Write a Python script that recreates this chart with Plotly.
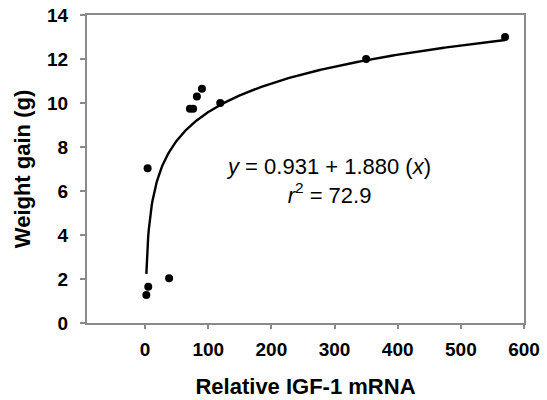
import numpy as np
import plotly.graph_objects as go

# Observed points: relative IGF-1 mRNA vs weight gain (g)
igf1_mrna = [2, 5, 38, 4, 71, 76, 82, 90, 119, 350, 570]
weight_gain = [1.27, 1.65, 2.03, 7.03, 9.74, 9.74, 10.3, 10.65, 10.0, 12.0, 13.0]

# Logarithmic trendline coefficients (y = a + b ln x)
fit_a = 0.931
fit_b = 1.880
r_squared = 72.9

x_ticks = [0, 100, 200, 300, 400, 500, 600]
y_ticks = [0, 2, 4, 6, 8, 10, 12, 14]

fit_x = np.linspace(min(igf1_mrna), max(igf1_mrna), 600)
fit_y = fit_a + fit_b * np.log(fit_x)

FONT = "Liberation Sans, Arial, sans-serif"
AXIS_GRAY = "#8a8a8a"

fig = go.Figure()
fig.add_trace(go.Scatter(
    x=fit_x, y=fit_y, mode="lines",
    line=dict(color="black", width=2.4),
    hoverinfo="skip", showlegend=False,
))
fig.add_trace(go.Scatter(
    x=igf1_mrna, y=weight_gain, mode="markers",
    marker=dict(color="black", size=8),
    showlegend=False,
))

fig.add_annotation(
    x=290, y=6.45, xref="x", yref="y",
    text=(f"<i>y</i> = {fit_a:.3f} + {fit_b:.3f} (<i>x</i>)<br>"
          f"<i>r</i><sup>2</sup> = {r_squared}"),
    showarrow=False, xanchor="center", yanchor="middle", align="center",
    font=dict(family=FONT, size=22, color="black"),
)

fig.update_layout(
    width=547, height=400,
    margin=dict(l=87, r=23, t=15, b=77),
    paper_bgcolor="white", plot_bgcolor="white",
    font=dict(family=FONT, color="black"),
)
fig.update_xaxes(
    range=[-92, 600], tickvals=x_ticks, ticktext=[str(v) for v in x_ticks],
    showgrid=False, zeroline=False, automargin=False,
    showline=True, linecolor=AXIS_GRAY, linewidth=2, mirror=True,
    ticks="outside", ticklen=4, tickwidth=1.5, tickcolor=AXIS_GRAY,
    ticklabelstandoff=4,
    tickfont=dict(family=FONT, size=19, color="black", weight="bold"),
    title=dict(text="<b>Relative IGF-1 mRNA</b>", standoff=20,
               font=dict(family=FONT, size=22, color="black")),
)
fig.update_yaxes(
    range=[0, 14], tickvals=y_ticks, ticktext=[str(v) for v in y_ticks],
    showgrid=False, zeroline=False, automargin=False,
    showline=True, linecolor=AXIS_GRAY, linewidth=2, mirror=True,
    ticks="outside", ticklen=5, tickwidth=1.5, tickcolor=AXIS_GRAY,
    ticklabelstandoff=8,
    tickfont=dict(family=FONT, size=19, color="black", weight="bold"),
    title=dict(text="<b>Weight gain (g)</b>", standoff=10,
               font=dict(family=FONT, size=22, color="black")),
)

fig.write_html("out.html")
